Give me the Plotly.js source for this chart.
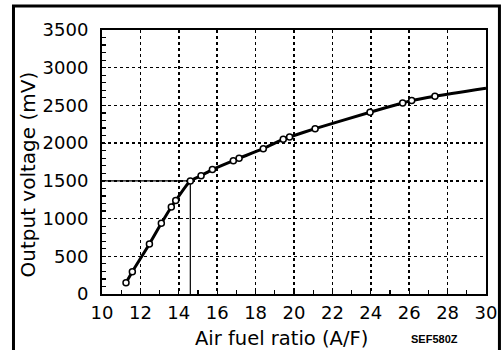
<!DOCTYPE html>
<html>
<head>
<meta charset="utf-8">
<script src="https://cdn.plot.ly/plotly-3.0.1.min.js"></script>
<style>
html,body{margin:0;padding:0;background:#fff;}
#chart{width:503px;height:350px;}
</style>
</head>
<body>
<div id="chart"></div>
<script>
// Measured points: air fuel ratio vs output voltage (mV)
const afr = [11.25, 11.58, 12.47, 13.09, 13.61, 13.84, 14.6, 15.16, 15.75, 16.84, 17.14, 18.4, 19.44, 19.77, 21.1, 23.96, 25.66, 26.13, 27.34];
const mv  = [150, 296, 663, 937, 1154, 1238, 1499, 1569, 1650, 1768, 1800, 1927, 2052, 2082, 2192, 2410, 2533, 2564, 2622];
// Curve continues beyond last marker to axis edge
const curveEndX = [30];
const curveEndY = [2728];
// Stoichiometric reference lines
const refX = [10, 14.6, 14.6];
const refY = [1500, 1500, 0];
const xTicks = [10, 12, 14, 16, 18, 20, 22, 24, 26, 28, 30];
const yTicks = [0, 500, 1000, 1500, 2000, 2500, 3000, 3500];

const FONT = "DejaVu Sans, Liberation Sans, Arial, sans-serif";

const traces = [
  {
    x: refX, y: refY, mode: 'lines', type: 'scatter',
    line: {color: '#000', width: 1.2}, hoverinfo: 'skip', showlegend: false
  },
  {
    x: afr.concat(curveEndX), y: mv.concat(curveEndY), mode: 'lines', type: 'scatter',
    line: {color: '#000', width: 3, shape: 'spline', smoothing: 0.6},
    showlegend: false
  },
  {
    x: afr, y: mv, mode: 'markers', type: 'scatter',
    marker: {size: 6, color: '#fff', line: {color: '#000', width: 1.5}},
    showlegend: false
  }
];

const layout = {
  width: 503, height: 350,
  margin: {l: 102, r: 17, t: 30, b: 56, pad: 0},
  paper_bgcolor: '#fff', plot_bgcolor: '#fff',
  showlegend: false,
  font: {family: FONT, color: '#000', size: 18},
  xaxis: {
    range: [10, 30], tickvals: xTicks, ticktext: xTicks.map(String),
    showline: true, mirror: true, linecolor: '#000', linewidth: 2,
    ticks: 'inside', ticklen: 4, tickwidth: 1.2, tickcolor: '#000',
    minor: {dtick: 1, tick0: 0, ticks: 'inside', ticklen: 4, tickwidth: 1.2, tickcolor: '#000', showgrid: false},
    showgrid: true, gridcolor: '#000', gridwidth: 1.5, griddash: '3px,3px',
    zeroline: false, tickfont: {family: FONT, size: 18, color: '#000'},
    ticklabelstandoff: 1,
    fixedrange: true
  },
  yaxis: {
    range: [0, 3500], tickvals: yTicks, ticktext: yTicks.map(String),
    showline: true, mirror: true, linecolor: '#000', linewidth: 2,
    ticks: 'inside', ticklen: 4, tickwidth: 1.2, tickcolor: '#000',
    minor: {dtick: 100, tick0: 0, ticks: 'inside', ticklen: 4, tickwidth: 1.2, tickcolor: '#000', showgrid: false},
    showgrid: true, gridcolor: '#000', gridwidth: 1.5, griddash: '3px,3px',
    zeroline: false, tickfont: {family: FONT, size: 18, color: '#000'},
    ticklabelstandoff: 8,
    fixedrange: true
  },
  shapes: [
    {type: 'rect', xref: 'paper', yref: 'paper',
     x0: -0.2305, x1: 1.035, y0: -0.25, y1: 1.0909,
     line: {color: '#000', width: 3}, fillcolor: 'rgba(0,0,0,0)', layer: 'below'}
  ],
  annotations: [
    {text: 'Output voltage (mV)', xref: 'paper', yref: 'paper', x: -0.194, y: 0.4508,
     xanchor: 'center', yanchor: 'middle', textangle: -90, showarrow: false,
     font: {family: FONT, size: 20, color: '#000'}},
    {text: 'Air fuel ratio (A/F)', xref: 'paper', yref: 'paper', x: 0.467, y: -0.168,
     xanchor: 'center', yanchor: 'middle', showarrow: false,
     font: {family: FONT, size: 19.5, color: '#000'}},
    {text: '<b>SEF580Z</b>', xref: 'paper', yref: 'paper', x: 0.867, y: -0.1686,
     xanchor: 'center', yanchor: 'middle', showarrow: false,
     font: {family: 'Liberation Sans, Arial, sans-serif', size: 11, color: '#000'}}
  ]
};

Plotly.newPlot('chart', traces, layout, {displayModeBar: false, staticPlot: true});
</script>
</body>
</html>
